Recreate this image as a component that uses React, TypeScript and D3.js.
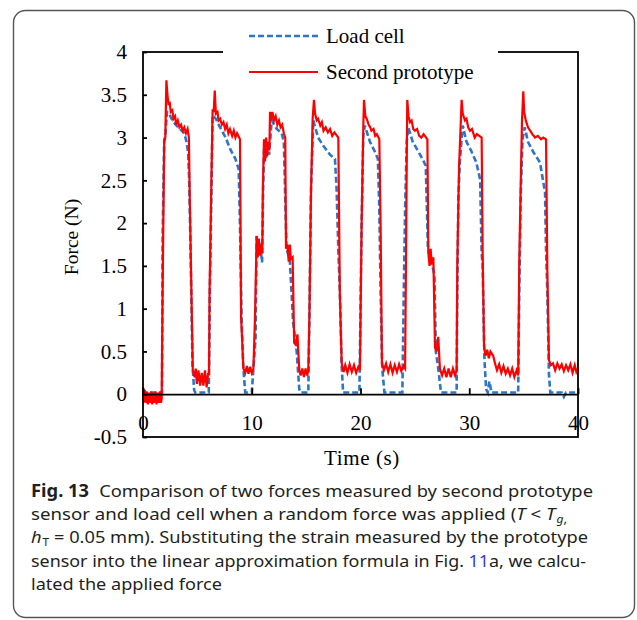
// App.tsx
// force comparison chart: load cell vs second prototype, drawn with d3
import * as d3 from 'd3';
import React, { useRef, useEffect } from 'react';

// y ticks and x ticks
const forceTicks = [-0.5, 0, 0.5, 1, 1.5, 2, 2.5, 3, 3.5, 4];
const timeTicks = [0, 10, 20, 30, 40];

// [time (s), force (N)]
const loadCell: [number, number][] = [
    [0, 0.06], [0.2, 0.02], [1.0, 0.02], [1.75, 0.02],
    [1.8, 1.8], [1.95, 2.98], [2.05, 3.0], [2.2, 3.3], [2.4, 3.28], [2.7, 3.2], [3.0, 3.15], [3.4, 3.1], [3.8, 3.05], [4.0, 2.95], [4.15, 2.82], [4.25, 2.5], [4.4, 1.5], [4.55, 0.35], [4.7, 0.05], [4.8, 0.02], [6.05, 0.02],
    [6.15, 1.2], [6.3, 2.43], [6.4, 3.26], [6.7, 3.22], [7.0, 3.14], [7.6, 3.0], [8.0, 2.87], [8.5, 2.75], [8.8, 2.63], [8.92, 1.97], [9.07, 0.87], [9.23, 0.3], [9.4, 0.02], [10.0, 0.02],
    [10.35, 0.65], [10.45, 1.85], [10.6, 1.7], [10.75, 1.78], [10.95, 1.54], [11.05, 2.4], [11.15, 2.98], [11.3, 2.75], [11.45, 2.9], [11.6, 2.8], [11.83, 3.2], [12.3, 3.1], [12.75, 3.05], [12.95, 2.95], [13.06, 2.4], [13.2, 1.7], [13.5, 1.57], [13.8, 0.85], [14.13, 0.5], [14.37, 0.06], [14.5, 0.02], [15.2, 0.02],
    [15.3, 0.87], [15.45, 2.4], [15.66, 3.2], [16.1, 3.0], [16.6, 2.9], [17.2, 2.8], [17.65, 2.75], [17.8, 2.4], [17.96, 1.7], [18.1, 1.2], [18.27, 0.33], [18.4, 0.02], [19.9, 0.02],
    [20.1, 1.97], [20.26, 3.03], [20.4, 3.14], [20.87, 2.95], [21.3, 2.84], [21.6, 2.75], [21.73, 2.16], [21.85, 1.2], [22.0, 0.3], [22.2, 0.02], [23.85, 0.02],
    [23.98, 1.2], [24.1, 2.16], [24.25, 2.95], [24.4, 3.12], [24.8, 2.95], [25.3, 2.84], [25.7, 2.75], [26.0, 2.67], [26.2, 1.7], [26.6, 1.5], [26.8, 1.4], [26.93, 0.5], [27.2, 0.25], [27.4, 0.02], [28.84, 0.02],
    [28.9, 1.2], [29.0, 2.3], [29.15, 2.75], [29.4, 3.14], [29.75, 2.95], [30.2, 2.84], [30.65, 2.71], [31.0, 2.51], [31.14, 1.65], [31.23, 1.5], [31.4, 0.4], [31.55, 0.06], [31.7, 0.02], [31.85, 0.15], [32.05, 0.02], [34.5, 0.02],
    [34.6, 1.2], [34.73, 2.3], [34.9, 2.98], [35.1, 3.12], [35.4, 2.95], [35.85, 2.84], [36.5, 2.71], [36.97, 2.36], [37.06, 1.7], [37.18, 1.2], [37.33, 0.23], [37.45, 0.02], [38.5, 0.02], [38.7, -0.03], [38.9, 0.02], [40, 0.02]
];

const prototype: [number, number][] = [
    [0, 0.08], [0.05, -0.1], [0.15, 0.05], [0.25, -0.1], [0.35, 0.03], [0.45, -0.12], [0.55, 0.02], [0.65, -0.1], [0.75, 0.03], [0.85, -0.12], [0.95, 0.02], [1.05, -0.1], [1.15, 0.03], [1.25, -0.12], [1.35, 0.02], [1.45, -0.1], [1.55, 0.03], [1.65, -0.1], [1.72, -0.05],
    [1.75, 0.45], [1.85, 1.78], [1.95, 2.95], [2.05, 3.0], [2.15, 3.67], [2.25, 3.5], [2.35, 3.38], [2.45, 3.42], [2.55, 3.3], [2.7, 3.32], [2.8, 3.22], [2.95, 3.25], [3.05, 3.15], [3.2, 3.2], [3.35, 3.12], [3.5, 3.15], [3.65, 3.08], [3.8, 3.12], [3.95, 3.05], [4.1, 3.1], [4.22, 3.0], [4.28, 2.45], [4.45, 1.2], [4.58, 0.28], [4.75, 0.2], [4.85, 0.3], [4.95, 0.12], [5.1, 0.28], [5.25, 0.1], [5.4, 0.25], [5.55, 0.1], [5.7, 0.28], [5.85, 0.08], [6.0, 0.25], [6.07, 0.22],
    [6.12, 1.2], [6.28, 2.43], [6.4, 3.33], [6.5, 3.3], [6.6, 3.55], [6.7, 3.28], [6.85, 3.3], [6.95, 3.2], [7.1, 3.22], [7.25, 3.15], [7.4, 3.18], [7.55, 3.1], [7.7, 3.15], [7.85, 3.05], [8.0, 3.1], [8.2, 3.02], [8.35, 3.08], [8.5, 3.0], [8.65, 3.05], [8.92, 2.98], [9.02, 0.9], [9.23, 0.3], [9.4, 0.25], [9.55, 0.33], [9.7, 0.24], [9.85, 0.32], [10.0, 0.25], [10.15, 0.3],
    [10.3, 0.9], [10.45, 1.85], [10.55, 1.6], [10.65, 1.82], [10.75, 1.62], [10.85, 1.75], [10.97, 1.65], [11.02, 2.4], [11.13, 2.98], [11.22, 2.72], [11.32, 3.0], [11.42, 2.78], [11.52, 2.95], [11.62, 2.85], [11.68, 3.3], [11.8, 3.2], [11.9, 3.3], [12.05, 3.2], [12.2, 3.25], [12.35, 3.15], [12.5, 3.2], [12.65, 3.12], [12.8, 3.15], [12.95, 3.05], [13.08, 3.0], [13.15, 1.7], [13.27, 1.75], [13.4, 1.55], [13.5, 1.75], [13.6, 1.58], [13.76, 1.6], [13.9, 0.6], [14.05, 0.58], [14.2, 0.7], [14.37, 0.28], [14.5, 0.22], [14.65, 0.3], [14.8, 0.2], [14.95, 0.3], [15.1, 0.22], [15.2, 0.28],
    [15.3, 0.9], [15.45, 2.37], [15.6, 3.22], [15.72, 3.44], [15.82, 3.28], [15.97, 3.2], [16.1, 3.22], [16.3, 3.14], [16.45, 3.18], [16.6, 3.08], [16.8, 3.12], [17.0, 3.06], [17.2, 3.1], [17.4, 3.02], [17.6, 3.06], [17.96, 3.0], [18.1, 1.18], [18.27, 0.36], [18.45, 0.26], [18.6, 0.34], [18.8, 0.25], [19.0, 0.35], [19.2, 0.26], [19.4, 0.34], [19.6, 0.25], [19.8, 0.32], [19.95, 0.28],
    [20.1, 1.97], [20.26, 3.14], [20.32, 3.44], [20.45, 3.25], [20.57, 3.22], [20.75, 3.15], [20.9, 3.12], [21.0, 3.08], [21.2, 3.1], [21.35, 3.02], [21.5, 3.04], [21.73, 2.98], [21.85, 1.97], [21.97, 0.36], [22.15, 0.28], [22.35, 0.36], [22.55, 0.26], [22.75, 0.35], [22.95, 0.25], [23.15, 0.34], [23.35, 0.26], [23.55, 0.35], [23.75, 0.27], [23.95, 0.33], [24.1, 0.3],
    [24.18, 1.5], [24.24, 2.55], [24.3, 3.44], [24.42, 3.25], [24.55, 3.18], [24.7, 3.2], [24.85, 3.1], [25.0, 3.08], [25.2, 3.1], [25.4, 3.02], [25.6, 3.0], [25.8, 3.04], [26.15, 2.98], [26.24, 1.65], [26.35, 1.5], [26.45, 1.7], [26.55, 1.52], [26.7, 1.6], [26.85, 0.55], [27.0, 0.5], [27.15, 0.67], [27.3, 0.3], [27.5, 0.22], [27.7, 0.3], [27.9, 0.2], [28.1, 0.3], [28.3, 0.2], [28.5, 0.3], [28.7, 0.22], [28.84, 0.28],
    [28.9, 1.5], [29.06, 2.65], [29.3, 3.44], [29.4, 3.28], [29.6, 3.2], [29.75, 3.22], [29.9, 3.12], [30.07, 3.08], [30.25, 3.1], [30.5, 3.0], [30.7, 3.04], [31.14, 3.0], [31.23, 1.7], [31.36, 0.55], [31.5, 0.45], [31.65, 0.52], [31.8, 0.42], [31.95, 0.5], [32.2, 0.45], [32.37, 0.36], [32.55, 0.28], [32.75, 0.35], [32.95, 0.25], [33.15, 0.33], [33.35, 0.24], [33.55, 0.3], [33.75, 0.22], [33.95, 0.3], [34.15, 0.2], [34.35, 0.28], [34.5, 0.22],
    [34.6, 1.55], [34.73, 2.43], [34.85, 3.2], [34.97, 3.54], [35.05, 3.3], [35.2, 3.2], [35.4, 3.12], [35.6, 3.08], [35.8, 3.04], [36.05, 3.0], [36.3, 3.02], [36.6, 2.98], [36.8, 3.0], [37.06, 2.98], [37.18, 1.44], [37.33, 0.4], [37.5, 0.34], [37.7, 0.36], [37.9, 0.28], [38.1, 0.36], [38.3, 0.3], [38.5, 0.35], [38.7, 0.27], [38.9, 0.34], [39.1, 0.28], [39.3, 0.35], [39.5, 0.25], [39.7, 0.34], [39.85, 0.26], [40, 0.3]
];

const seriesNames = ['Load cell', 'Second prototype'];
const BLUE = '#2e75c6';
const RED = '#ff0000';
const SERIF = '"Liberation Serif", "Times New Roman", serif';

function Chart() {
    const ref = useRef<SVGGElement>(null);

    useEffect(() => {
        const g = d3.select(ref.current);
        g.selectAll('*').remove();

        const left = 143, right = 578, top = 52, bottom = 437;
        const x = d3.scaleLinear().domain([0, 40]).range([left, right]);
        const y = d3.scaleLinear().domain([-0.5, 4]).range([bottom, top]);

        const line = d3.line<[number, number]>()
            .x(d => x(d[0]))
            .y(d => y(d[1]));

        // blue dashed first, red drawn over it
        g.append('path').datum(loadCell)
            .attr('d', line).attr('fill', 'none')
            .attr('stroke', BLUE).attr('stroke-width', 2.6)
            .attr('stroke-dasharray', '6,3');
        g.append('path').datum(prototype)
            .attr('d', line).attr('fill', 'none')
            .attr('stroke', RED).attr('stroke-width', 2.2)
            .attr('stroke-linejoin', 'miter');

        // frame
        g.append('rect')
            .attr('x', left).attr('y', top)
            .attr('width', right - left).attr('height', bottom - top)
            .attr('fill', 'none').attr('stroke', '#000').attr('stroke-width', 1.8);

        // y axis, ticks pointing inward
        const yAxis = g.append('g').attr('transform', `translate(${left},0)`)
            .call(d3.axisLeft(y).tickValues(forceTicks).tickSizeInner(-4).tickSizeOuter(0).tickPadding(16)
                .tickFormat(d => String(d)));
        yAxis.select('.domain').remove();
        yAxis.selectAll('line').attr('stroke', '#000').attr('stroke-width', 1.8);
        yAxis.selectAll('text').attr('font-family', SERIF).attr('font-size', 21).attr('fill', '#000');

        // x axis sits on force = 0
        const xAxis = g.append('g').attr('transform', `translate(0,${y(0)})`)
            .call(d3.axisBottom(x).tickValues(timeTicks).tickSizeInner(-6).tickSizeOuter(0).tickPadding(21));
        xAxis.select('.domain').attr('stroke', '#000').attr('stroke-width', 1.8);
        xAxis.selectAll('line').attr('stroke', '#000').attr('stroke-width', 1.8);
        xAxis.selectAll('text').attr('font-family', SERIF).attr('font-size', 21).attr('fill', '#000');

        // axis titles
        g.append('text')
            .attr('x', 362).attr('y', 465)
            .attr('text-anchor', 'middle')
            .attr('font-family', SERIF).attr('font-size', 21).attr('letter-spacing', 0.6)
            .text('Time (s)');
        g.append('text')
            .attr('transform', 'translate(78,237) rotate(-90)')
            .attr('text-anchor', 'middle')
            .attr('font-family', SERIF).attr('font-size', 19.5)
            .text('Force (N)');

        // legend box over the top border
        const leg = g.append('g');
        leg.append('rect')
            .attr('x', 223).attr('y', 18).attr('width', 275).attr('height', 72)
            .attr('fill', '#fff');
        const legY = [36, 72];
        leg.selectAll('line.key').data(seriesNames).enter()
            .append('line')
            .attr('x1', 249).attr('x2', 318)
            .attr('y1', (d, i) => legY[i]).attr('y2', (d, i) => legY[i])
            .attr('stroke', (d, i) => i === 0 ? BLUE : RED)
            .attr('stroke-width', (d, i) => i === 0 ? 2.6 : 2.2)
            .attr('stroke-dasharray', (d, i) => i === 0 ? '6,3' : null);
        leg.selectAll('text').data(seriesNames).enter()
            .append('text')
            .attr('x', 326)
            .attr('y', (d, i) => legY[i] + 7)
            .attr('font-family', SERIF).attr('font-size', 21)
            .text(d => d);
    }, []);

    return <g ref={ref}></g>;
}

export default function App() {
    const cap = { fontFamily: '"Noto Sans", "Open Sans", sans-serif', fontSize: 17, fill: '#231f20' };
    return (
        <svg width={637} height={620} style={{ position: 'absolute', left: 0, top: 0, background: '#fff' }}>
            <rect x={13.5} y={10.5} width={621} height={607} rx={12} fill="#fff" stroke="#555" strokeWidth={1.4} />
            <Chart />
            <g style={cap}>
                <text x={31} y={497} textLength={562} lengthAdjust="spacingAndGlyphs">
                    <tspan fontWeight={700}>Fig. 13</tspan>
                    <tspan dx={5}>{' Comparison of two forces measured by second prototype'}</tspan>
                </text>
                <text x={31} y={520} textLength={536} lengthAdjust="spacingAndGlyphs">
                    {'sensor and load cell when a random force was applied ('}
                    <tspan fontStyle="italic">T</tspan>
                    {' < '}
                    <tspan fontStyle="italic">T</tspan>
                    <tspan fontStyle="italic" fontSize={11} dx={1} dy={3}>g</tspan>
                    <tspan fontSize={12}>,</tspan>
                </text>
                <text x={31} y={543} textLength={557} lengthAdjust="spacingAndGlyphs">
                    <tspan fontStyle="italic">h</tspan>
                    <tspan fontSize={11} dx={1} dy={3}>T</tspan>
                    <tspan dy={-3}>{' = 0.05 mm). Substituting the strain measured by the prototype'}</tspan>
                </text>
                <text x={31} y={567} textLength={555} lengthAdjust="spacingAndGlyphs">
                    {'sensor into the linear approximation formula in Fig. '}
                    <tspan fill="#3a3ad8">11</tspan>
                    {'a, we calcu-'}
                </text>
                <text x={31} y={590} textLength={191} lengthAdjust="spacingAndGlyphs">
                    {'lated the applied force'}
                </text>
            </g>
        </svg>
    );
}
